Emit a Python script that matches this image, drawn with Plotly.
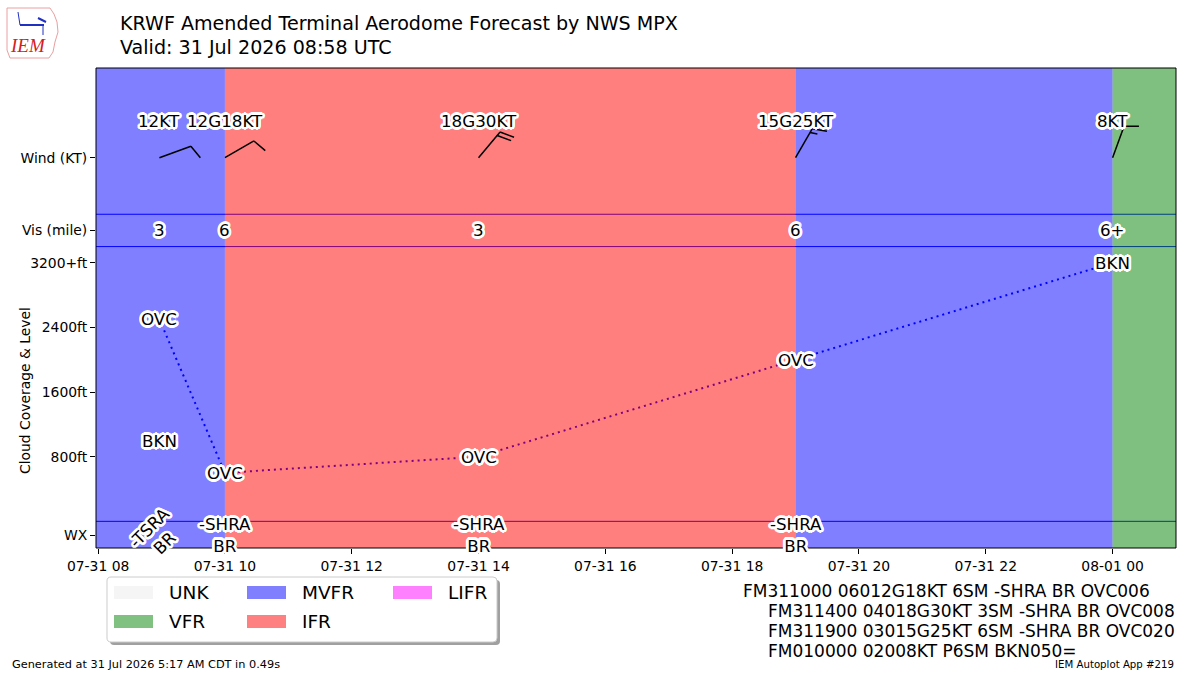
import math
from datetime import datetime, timedelta
import plotly.graph_objects as go

# ---------------- data ----------------
fm_times = ["2026-07-31 08:58", "2026-07-31 10:00", "2026-07-31 14:00",
            "2026-07-31 19:00", "2026-08-01 00:00"]
wind_dir = [70, 60, 40, 30, 20]
wind_speed = [12, 12, 18, 15, 8]
wind_labels = ["12KT", "12G18KT", "18G30KT", "15G25KT", "8KT"]
vis_labels = ["3", "6", "3", "6", "6+"]
wx_labels = ["-TSRA<br>BR", "-SHRA<br>BR", "-SHRA<br>BR", "-SHRA<br>BR", ""]
wx_angle = [-45, 0, 0, 0, 0]

cloud_idx = [0, 0, 1, 2, 3, 4]
cloud_cover = ["BKN", "OVC", "OVC", "OVC", "OVC", "BKN"]
cloud_level = [1000, 2500, 600, 800, 2000, 5000]

cat_start = ["2026-07-31 07:58", "2026-07-31 10:00", "2026-07-31 19:00", "2026-08-01 00:00"]
cat_name = ["MVFR", "IFR", "MVFR", "VFR"]

legend_names = ["UNK", "VFR", "MVFR", "IFR", "LIFR"]
cat_colors = {"UNK": "rgba(235,235,235,0.5)", "VFR": "rgba(0,128,0,0.5)",
              "MVFR": "rgba(0,0,255,0.5)", "IFR": "rgba(255,0,0,0.5)",
              "LIFR": "rgba(255,0,255,0.5)"}
legend_solid = {"UNK": "#F5F5F5", "VFR": "#80C080", "MVFR": "#8080FF",
                "IFR": "#FF8080", "LIFR": "#FF80FF"}

taf_lines = ["FM311000 06012G18KT 6SM -SHRA BR OVC006",
             "FM311400 04018G30KT 3SM -SHRA BR OVC008",
             "FM311900 03015G25KT 6SM -SHRA BR OVC020",
             "FM010000 02008KT P6SM BKN050="]

# ---------------- layout constants ----------------
XMIN = datetime(2026, 7, 31, 7, 58)
XMAX = datetime(2026, 8, 1, 1, 0)
YMIN, YMAX = -330, 5610
Y_WIND, Y_WIND_LBL, Y_VIS, Y_CEIL, Y_WX = 4500, 4960, 3600, 3200, -170
L_M, R_M, T_M, B_M = 96, 24, 68, 127
W, H = 1200, 675
PW, PH = W - L_M - R_M, H - T_M - B_M
PX_PER_HR = PW / ((XMAX - XMIN).total_seconds() / 3600)
PX_PER_FT = PH / (YMAX - YMIN)

FONT = "DejaVu Sans"
LBL_SIZE = 16.7
_halo = []
for k in range(16):
    a = 2 * math.pi * k / 16
    _halo.append((2.6 * math.cos(a), 2.6 * math.sin(a)))
for k in range(8):
    a = 2 * math.pi * k / 8 + math.pi / 8
    _halo.append((1.4 * math.cos(a), 1.4 * math.sin(a)))
HALO = ", ".join("%.2fpx %.2fpx 0px #ffffff" % o for o in _halo)


def t(s):
    return datetime.strptime(s, "%Y-%m-%d %H:%M")


def pxp(x):
    return (x - L_M) / PW


def pyp(y):
    return (H - B_M - y) / PH


def offset(tm, yv, dxpx, dypx):
    """shift data point by screen pixels (dy screen-down)."""
    return tm + timedelta(hours=dxpx / PX_PER_HR), yv - dypx / PX_PER_FT


fig = go.Figure()
shapes = []
ann = []

# blue horizontal separators (drawn beneath the category spans)
for yv in [Y_WIND - 700, Y_VIS - 200, 0]:
    fig.add_trace(go.Scatter(x=[XMIN, XMAX], y=[yv, yv], mode="lines",
                             line=dict(color="blue", width=1), hoverinfo="skip",
                             showlegend=False))

# dotted line through top cloud layer
top_level = {}
for i, lv in zip(cloud_idx, cloud_level):
    top_level[i] = max(top_level.get(i, -1), min(lv, Y_CEIL))
line_x = [t(fm_times[i]) for i in sorted(top_level)]
line_y = [top_level[i] for i in sorted(top_level)]
fig.add_trace(go.Scatter(x=line_x, y=line_y, mode="lines",
                         line=dict(color="blue", width=2, dash="2px,4px"),
                         hoverinfo="skip", showlegend=False))

# flight category spans
bounds = [t(s) for s in cat_start] + [XMAX]
for k, name in enumerate(cat_name):
    shapes.append(dict(type="rect", xref="x", yref="paper", x0=bounds[k], x1=bounds[k + 1],
                       y0=0, y1=1, fillcolor=cat_colors[name], line=dict(width=0),
                       layer="above"))

# wind barbs
STAFF = 33.5
for ts, d, spd in zip(fm_times, wind_dir, wind_speed):
    tm = t(ts)
    r = math.radians(d)
    ux, uy = math.sin(r), -math.cos(r)
    px_, py_ = -uy, ux
    tipx, tipy = STAFF * ux, STAFF * uy
    segs = [((0, 0), (tipx, tipy))]
    n5 = int(round(spd / 5.0))
    nfull, nhalf = n5 // 2, n5 % 2
    off = 0.0
    for _ in range(nfull):
        bx, by = tipx - off * ux, tipy - off * uy
        segs.append(((bx, by), (bx + 14 * px_ + 5 * ux, by + 14 * py_ + 5 * uy)))
        off += 4.5
    for _ in range(nhalf):
        bx, by = tipx - off * ux, tipy - off * uy
        segs.append(((bx, by), (bx + 7 * px_ + 2.5 * ux, by + 7 * py_ + 2.5 * uy)))
        off += 4.5
    for (a, b) in segs:
        x0, y0 = offset(tm, Y_WIND, a[0], a[1])
        x1, y1 = offset(tm, Y_WIND, b[0], b[1])
        shapes.append(dict(type="line", xref="x", yref="y", x0=x0, y0=y0, x1=x1, y1=y1,
                           line=dict(color="black", width=1.5), layer="above"))

# frame
shapes.append(dict(type="rect", xref="paper", yref="paper", x0=0, x1=1, y0=0, y1=1,
                   line=dict(color="black", width=1), fillcolor="rgba(0,0,0,0)", layer="above"))


def label(x, y, text, size=LBL_SIZE, angle=0, xs=0):
    ann.append(dict(x=x, y=y, xref="x", yref="y", text=text, showarrow=False,
                    textangle=angle,
                    font=dict(family=FONT, size=size, color="black", shadow=HALO),
                    xanchor="center", yanchor="middle", xshift=xs))


for ts, wl, vl, wx, ang in zip(fm_times, wind_labels, vis_labels, wx_labels, wx_angle):
    tm = t(ts)
    label(tm, Y_WIND_LBL, wl)
    label(tm, Y_VIS, vl)
    if wx:
        label(tm, Y_WX, wx, angle=ang, xs=-2 if ang else 0)

for i, cv, lv in zip(cloud_idx, cloud_cover, cloud_level):
    label(t(fm_times[i]), min(lv, Y_CEIL), cv)


# titles
def ptext(x, y, text, size, anchor="left", color="black", family=FONT, angle=0):
    ann.append(dict(x=pxp(x), y=pyp(y), xref="paper", yref="paper", text=text, showarrow=False,
                    xanchor=anchor, yanchor="middle", textangle=angle,
                    font=dict(family=family, size=size, color=color)))


ptext(118, 23, "KRWF Amended Terminal Aerodome Forecast by NWS MPX", 19.1)
ptext(118, 47, "Valid: 31 Jul 2026 08:58 UTC", 19.1)
ptext(25, 391, "Cloud Coverage & Level", 13.9, anchor="center", angle=-90)

# IEM logo (approximate)
logo_pts = [(7, 8), (50, 8), (54, 14), (57, 22), (58, 32), (55, 42), (53, 52), (49, 58),
            (10, 58), (7, 50)]
shapes.append(dict(type="path", xref="paper", yref="paper",
                   path="M " + " L ".join("%f %f" % (pxp(a), pyp(b)) for a, b in logo_pts) + " Z",
                   line=dict(color="#e8a0a0", width=1), fillcolor="rgba(0,0,0,0)"))
shapes.append(dict(type="line", xref="paper", yref="paper", x0=pxp(20), y0=pyp(25),
                   x1=pxp(44), y1=pyp(25), line=dict(color="#2030c0", width=2)))
shapes.append(dict(type="line", xref="paper", yref="paper", x0=pxp(18), y0=pyp(12),
                   x1=pxp(20), y1=pyp(25), line=dict(color="#2030c0", width=1)))
shapes.append(dict(type="line", xref="paper", yref="paper", x0=pxp(38), y0=pyp(18),
                   x1=pxp(46), y1=pyp(22), line=dict(color="#2030c0", width=2)))
shapes.append(dict(type="line", xref="paper", yref="paper", x0=pxp(43), y0=pyp(25),
                   x1=pxp(43), y1=pyp(35), line=dict(color="#2030c0", width=1)))
ptext(28, 45, "<i>IEM</i>", 19, anchor="center", color="#d42020", family="Liberation Serif")

# legend
lx0, ly0, lx1, ly1 = 107, 577, 497, 642


def rrect(x0, y0, x1, y1, rad):
    X = lambda v: pxp(v)
    Y = lambda v: pyp(v)
    rx = rad / PW
    ry = rad / PH
    return ("M %f %f L %f %f Q %f %f %f %f L %f %f Q %f %f %f %f L %f %f Q %f %f %f %f "
            "L %f %f Q %f %f %f %f Z") % (
        X(x0) + rx, Y(y0), X(x1) - rx, Y(y0), X(x1), Y(y0), X(x1), Y(y0) - ry,
        X(x1), Y(y1) + ry, X(x1), Y(y1), X(x1) - rx, Y(y1),
        X(x0) + rx, Y(y1), X(x0), Y(y1), X(x0), Y(y1) + ry,
        X(x0), Y(y0) - ry, X(x0), Y(y0), X(x0) + rx, Y(y0))


shapes.append(dict(type="path", xref="paper", yref="paper", path=rrect(lx0 + 3, ly0 + 3, lx1 + 3, ly1 + 3, 4),
                   fillcolor="#a0a0a0", line=dict(width=0), layer="above"))
shapes.append(dict(type="path", xref="paper", yref="paper", path=rrect(lx0, ly0, lx1, ly1, 4),
                   fillcolor="white", line=dict(color="#cccccc", width=1), layer="above"))
leg_pos = {"UNK": (114, 592.5), "VFR": (114, 621.5), "MVFR": (247, 592.5),
           "IFR": (247, 621.5), "LIFR": (393, 592.5)}
for name in legend_names:
    sx, sy = leg_pos[name]
    shapes.append(dict(type="rect", xref="paper", yref="paper", x0=pxp(sx), x1=pxp(sx + 39),
                       y0=pyp(sy - 6.5), y1=pyp(sy + 6.5), fillcolor=legend_solid[name],
                       line=dict(width=0), layer="above"))
    ptext(sx + 53, sy, name, 18.5)

# TAF text
ptext(741, 591, taf_lines[0], 17)
for j, ln in enumerate(taf_lines[1:]):
    ptext(766, 611 + 20 * j, ln, 17)

ptext(10, 664, "Generated at 31 Jul 2026 5:17 AM CDT in 0.49s", 11.3)
ptext(1176, 664, "IEM Autoplot App #219", 10.2, anchor="right")

fig.update_layout(
    width=W, height=H, margin=dict(l=L_M, r=R_M, t=T_M, b=B_M, autoexpand=False),
    paper_bgcolor="white", plot_bgcolor="white", showlegend=False,
    shapes=shapes, annotations=ann,
    xaxis=dict(type="date", range=[XMIN, XMAX], showgrid=False, zeroline=False,
               tick0="2026-07-31 08:00", dtick=2 * 3600 * 1000, tickformat="%m-%d %H",
               ticks="outside", ticklen=5, tickcolor="black", showline=False,
               tickfont=dict(family=FONT, size=13.9, color="black")),
    yaxis=dict(range=[YMIN, YMAX], showgrid=False, zeroline=False,
               tickvals=[Y_WIND, Y_VIS, Y_CEIL, 2400, 1600, 800, Y_WX],
               ticktext=["Wind (KT)", "Vis (mile)", "3200+ft", "2400ft", "1600ft", "800ft", "WX"],
               ticks="outside", ticklen=5, tickcolor="black", showline=False,
               tickfont=dict(family=FONT, size=13.9, color="black")),
)

fig.write_html("out.html")
